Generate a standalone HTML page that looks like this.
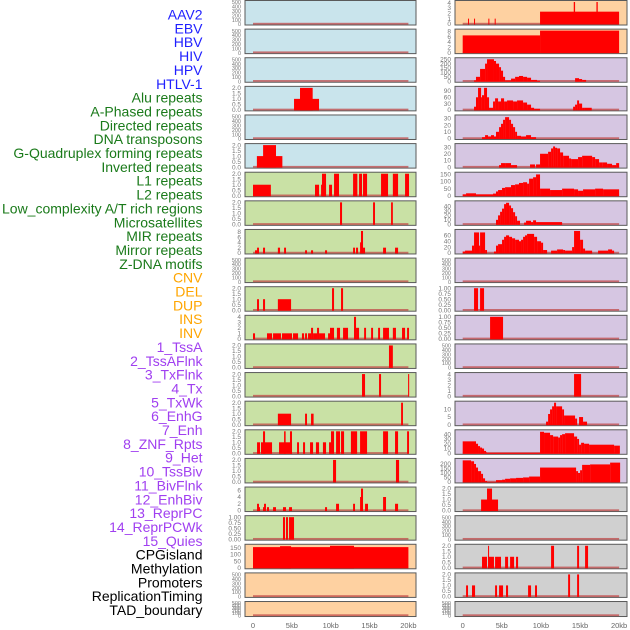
<!DOCTYPE html>
<html><head><meta charset="utf-8"><style>
html,body{margin:0;padding:0;background:#fff;}
svg{display:block;font-family:"Liberation Sans",sans-serif;}
</style></head><body>
<svg id="chart" width="630" height="630" viewBox="0 0 630 630" xmlns="http://www.w3.org/2000/svg"></svg>
<script>
const labelNames = ["AAV2","EBV","HBV","HIV","HPV","HTLV-1","Alu repeats","A-Phased repeats","Directed repeats","DNA transposons","G-Quadruplex forming repeats","Inverted repeats","L1 repeats","L2 repeats","Low_complexity A/T rich regions","Microsatellites","MIR repeats","Mirror repeats","Z-DNA motifs","CNV","DEL","DUP","INS","INV","1_TssA","2_TssAFlnk","3_TxFlnk","4_Tx","5_TxWk","6_EnhG","7_Enh","8_ZNF_Rpts","9_Het","10_TssBiv","11_BivFlnk","12_EnhBiv","13_ReprPC","14_ReprPCWk","15_Quies","CPGisland","Methylation","Promoters","ReplicationTiming","TAD_boundary"];
const labelGroups = ["v","v","v","v","v","v","r","r","r","r","r","r","r","r","r","r","r","r","r","s","s","s","s","s","c","c","c","c","c","c","c","c","c","c","c","c","c","c","c","o","o","o","o","o"];
const xTickValues = [0,5,10,15,20];
const xTickLabels = ["0","5kb","10kb","15kb","20kb"];
const leftBg = ["b","b","b","b","b","b","g","g","g","g","g","g","g","g","g","g","g","g","g","p","p","p"];
const rightBg = ["p","p","l","l","l","l","l","l","l","l","l","l","l","l","l","l","l","y","y","y","y","y"];
const leftYmax = [500,500,500,2,500,2,2,2,8.3,500,2,4,2,2,2,2,2,6.5,1,165,500,500];
const rightYmax = [4.1,8.3,250,105,33,33,155,49,75,500,1,1,500,4,14.4,46,245,2,500,2,2,500];
const leftTicks = [
"E","E","E","T2","E","T2","T2","T2",[0,2,4,6,8],"E","T2",[0,1,2,3,4],"T2","T2","T2","T2","T2",[0,2,4,6],"T1",[0,50,100,150],"E","E"];
const rightTicks = [
[0,1,2,3,4],[0,2,4,6,8],[0,50,100,150,200,250],[0,30,60,90],[0,10,20,30],[0,10,20,30],[0,50,100,150],[0,10,20,30,40],[0,20,40,60],"E","T1","T1","E",[0,1,2,3,4],[0,5,10],[0,10,20,30,40],[0,50,100,150,200],"T2","E","T2","T2","E"];
const leftBars = [
[],[],[],
[[5.28,8.5,1],[6.05,7.68,2]],
[],
[[0.5,3.78,1],[1.3,2.96,2]],
[[0,2.3,1],[7.98,8.5,1],[8.76,9.4,1],[8.88,9.4,2],[9.79,10.17,1],[10.43,11.07,2],[12.88,13.43,2],[13.65,14.03,2],[14.16,14.68,2],[16.48,17.38,2],[18.0,18.67,2],[19.57,20.08,2]],
[[11.2,11.46,2],[15.45,15.7,2],[17.77,18.0,2]],
[[0.26,0.52,1],[0.52,0.77,2],[1.29,1.55,2],[3.2,3.48,2],[4.0,4.25,2],[6.7,6.95,1],[7.47,7.73,1],[9.27,9.53,1],[12.88,13.13,2],[13.26,13.52,2],[13.78,13.9,4],[13.9,14.16,8.3],[14.16,14.42,2],[16.74,17.12,2],[18.28,18.67,2]],
[],
[[0.52,0.77,1],[1.29,1.55,1],[3.2,4.9,1],[10.17,10.43,2],[11.33,11.59,2]],
[[0,0.26,1],[1.8,2.45,1],[2.58,3.6,1],[3.73,5.02,1],[5.15,5.8,1],[6.3,6.57,1],[6.7,6.95,1],[7.08,7.47,1],[7.47,7.73,2],[7.73,8.24,1],[8.24,8.5,2],[8.5,9.27,1],[9.66,9.91,1],[9.91,10.43,2],[10.8,11.2,2],[11.59,12.23,2],[13.0,13.26,4],[13.26,13.65,2],[14.3,14.55,2],[15.2,15.45,2],[16.1,16.35,2],[16.74,17.5,2],[18.0,18.4,2],[19.18,19.57,2],[19.83,20.08,2]],
[[17.5,18.0,2]],
[[14.03,14.42,2],[16.22,16.48,2],[19.96,20.1,2]],
[[3.2,4.9,1],[6.7,6.95,1],[7.47,7.8,1],[19.06,19.3,2]],
[[0.52,0.9,1],[1.03,2.45,1],[1.29,1.55,2],[3.35,5.02,1],[4.0,4.2,2],[4.76,5.02,2],[5.67,5.92,1],[6.44,6.7,1],[7.34,7.73,1],[8.1,8.5,1],[9.0,9.4,1],[9.79,10.04,1],[10.04,10.43,2],[10.69,11.2,2],[11.33,11.72,2],[12.6,13.4,2],[13.78,14.68,2],[16.74,17.38,2],[18.28,18.67,2],[19.83,20.08,2]],
[[10.3,10.69,2],[18.4,18.8,2]],
[[0.52,0.77,2],[0.77,0.9,1],[1.29,1.42,1],[1.42,1.67,2],[1.8,2.06,1],[2.58,2.96,1],[3.86,4.25,1],[4.64,5.02,1],[9.27,9.53,1],[10.69,11.07,2],[12.88,13.13,2],[13.78,13.9,4],[13.9,14.16,6.5],[14.42,14.8,2],[16.74,17.12,4],[18.28,18.67,2]],
[[3.86,4.12,1],[4.25,4.5,1],[4.64,5.28,1]],
[[0,20,155],[3.48,4.9,162],[9.91,13.0,165]],
[],[]];
const rightBars = [
[[0.68,0.81,1],[1.45,1.58,1],[3.28,3.41,1],[4.09,4.22,1],[9.89,20,2.3],[14.2,14.37,4.1],[17.1,17.27,4.1]],
[[0,9.89,6.5],[9.89,20,8.3]],
[[1.45,1.7,10],[1.7,2.22,50],[2.22,2.86,140],[2.86,3.11,200],[3.11,4.0,250],[4.0,4.26,230],[4.26,4.65,200],[4.65,4.9,160],[4.9,5.16,120],[5.16,5.42,50],[5.42,6.18,10],[6.18,6.7,30],[6.7,7.2,50],[7.2,7.72,60],[7.72,8.23,50],[8.23,8.74,40],[8.74,9.51,15],[9.51,9.89,5],[14.37,14.88,35],[14.88,15.27,25],[15.27,15.78,15]],
[[1.45,1.7,15],[1.7,1.96,60],[1.96,2.35,105],[2.35,2.47,60],[2.47,2.73,70],[2.73,3.11,105],[3.11,3.37,60],[3.37,3.88,10],[3.88,4.14,40],[4.14,4.52,55],[4.52,4.9,40],[4.9,5.29,55],[5.29,5.67,40],[5.67,6.44,45],[6.44,6.95,40],[6.95,7.72,45],[7.72,8.23,35],[8.23,8.74,25],[8.74,9.13,10],[9.13,9.89,5],[14.12,14.37,15],[14.37,14.63,25],[14.63,14.88,45],[14.88,15.27,30],[15.27,15.52,10],[15.52,16.5,10]],
[[2.47,2.86,2],[2.86,3.24,5],[3.24,3.62,3],[3.62,4.0,5],[4.0,4.26,3],[4.26,4.65,10],[4.65,4.9,17],[4.9,5.16,22],[5.16,5.42,28],[5.42,5.93,32],[5.93,6.18,28],[6.18,6.44,22],[6.44,6.7,17],[6.7,6.95,10],[6.95,7.46,4],[7.46,8.1,3],[8.1,8.74,5],[8.74,9.38,2]],
[[4.65,4.9,3],[4.9,5.42,6],[5.42,6.18,6],[6.18,6.95,3],[8.61,9.25,4],[9.38,9.89,4],[9.89,10.92,20],[10.92,11.3,23],[11.3,11.56,28],[11.56,11.81,31],[11.81,12.07,29],[12.07,12.45,28],[12.45,12.84,22],[12.84,13.6,17],[13.6,13.86,13],[13.86,14.75,12],[14.75,15.27,15],[15.27,16.55,17],[16.55,16.93,15],[16.93,17.44,12],[17.44,17.83,7],[17.83,18.46,7],[18.46,19.1,5],[19.1,19.62,3],[19.62,20,6]],
[[0,0.43,10],[0.43,1.7,17],[1.7,3.88,10],[3.88,4.26,15],[4.26,4.52,30],[4.52,5.03,40],[5.03,5.42,55],[5.42,6.18,60],[6.18,6.7,75],[6.7,7.2,80],[7.2,7.72,90],[7.72,8.23,95],[8.23,8.49,85],[8.49,9.0,120],[9.0,9.38,130],[9.38,9.89,150],[9.89,11.17,50],[11.17,12.71,40],[12.71,14.24,50],[14.24,14.75,45],[14.75,15.39,35],[15.39,16.93,45],[16.93,17.95,50],[17.95,20,45]],
[[4.26,4.52,10],[4.52,4.78,20],[4.78,5.03,28],[5.03,5.29,35],[5.29,5.54,45],[5.54,5.93,48],[5.93,6.18,42],[6.18,6.44,36],[6.44,6.7,27],[6.7,6.95,18],[6.95,7.33,8],[7.85,8.1,4],[8.1,8.74,8],[8.74,9.0,5],[9.0,9.38,9],[9.38,12.71,5]],
[[0,0.3,5],[0.3,1.19,8],[1.19,1.45,25],[1.45,2.09,70],[2.09,2.22,25],[2.22,2.86,70],[2.86,3.11,10],[4.0,4.26,5],[4.26,4.52,25],[4.52,5.03,30],[5.03,5.29,45],[5.29,5.54,55],[5.54,5.93,60],[5.93,6.31,55],[6.31,6.7,50],[6.7,7.2,45],[7.2,7.46,40],[7.46,7.72,45],[7.72,7.97,55],[7.97,8.23,60],[8.23,9.13,65],[9.13,9.51,55],[9.51,10.02,40],[10.02,10.28,35],[10.28,10.79,10],[11.3,12.07,8],[12.07,12.84,12],[12.84,13.09,10],[13.09,13.99,8],[13.99,14.24,20],[14.24,15.01,75],[15.01,15.39,45],[15.39,15.65,15],[15.65,16.55,8],[17.31,18.59,8],[18.59,19.1,12],[19.1,19.36,8]],
[],
[[1.45,1.96,1],[2.22,2.73,1]],
[[3.5,5.16,1]],
[],
[[14.24,15.14,4]],
[[10.66,10.92,2],[10.92,11.17,7],[11.17,11.43,10],[11.43,11.68,12],[11.68,11.94,14.4],[11.94,12.71,12],[12.71,12.96,10],[12.96,14.37,6],[14.37,14.63,4],[14.88,15.39,5],[15.39,15.9,2]],
[[0,1.7,25],[1.7,1.96,20],[1.96,2.22,15],[2.22,2.47,12],[2.47,2.73,10],[2.73,2.99,5],[2.99,3.11,2],[3.11,9.89,1],[9.89,10.4,45],[10.4,11.17,43],[11.17,11.56,38],[11.56,12.2,35],[12.2,12.45,33],[12.45,12.71,38],[12.71,13.09,40],[13.09,14.24,42],[14.24,14.63,35],[14.63,14.88,30],[14.88,15.14,18],[15.14,15.52,22],[15.52,16.16,20],[16.16,19.36,18],[19.36,20.1,16]],
[[0,1.07,240],[1.07,1.45,230],[1.45,1.7,200],[1.7,1.96,160],[1.96,2.35,120],[2.35,2.6,90],[2.6,2.86,40],[2.86,3.11,10],[3.11,4.26,1],[4.26,5.03,20],[5.03,5.42,25],[5.42,6.06,35],[6.06,6.82,40],[6.82,7.72,45],[7.72,8.49,50],[8.49,9.89,60],[9.89,14.5,160],[14.5,14.75,120],[14.75,15.01,100],[15.01,15.27,130],[15.27,16.29,190],[16.29,18.85,195],[18.85,20.13,215]],
[[2.35,4.52,1],[3.11,3.75,2]],
[],
[[2.47,3.11,1],[3.24,4.0,1],[3.24,3.37,2],[4.14,4.9,1],[5.42,5.8,1],[6.06,6.57,1],[6.82,7.08,1],[11.3,11.68,2],[14.63,14.88,2],[15.65,16.03,2]],
[[0.43,0.68,1],[1.19,1.58,1],[4.14,4.39,1],[4.65,5.16,1],[5.54,5.8,1],[8.36,8.74,1],[9.25,9.5,1],[13.48,13.73,2],[14.63,14.88,2]],
[]];

const NS = "http://www.w3.org/2000/svg";
const svg = document.getElementById('chart');
const bgColors = {b:"#c9e4ec", g:"#c9e1a5", p:"#fed1a1", l:"#d6c6e2", y:"#d0d0d0"};
const labelColors = {v:"#1f1fff", r:"#1a7a1a", s:"#ffa500", c:"#a03ff0", o:"#000000"};
function el(tag, attrs){const e=document.createElementNS(NS,tag);for(const k in attrs)e.setAttribute(k,attrs[k]);return e;}
function xLeft(kb){return 253+kb*7.77;}
function xRight(kb){return 462.7+kb*7.82;}
function rowTop(i){return 0.5+i*28.62;}
function rowH(i){return i===21?15:24.5;}

// labels
labelNames.forEach((t,i)=>{
  const tx=el('text',{x:202.5,y:19.5+i*13.85,'text-anchor':'end','font-size':'14',fill:labelColors[labelGroups[i]]});
  tx.textContent=t;
  
  
  svg.appendChild(tx);
});

function tickSet(spec){
  if(spec==="E")return {vals:[0,100,200,300,400,500],fmt:v=>String(v),max:500};
  if(spec==="T2")return {vals:[0,0.5,1,1.5,2],fmt:v=>v.toFixed(1),max:2};
  if(spec==="T1")return {vals:[0,0.25,0.5,0.75,1],fmt:v=>v.toFixed(2),max:1};
  return {vals:spec,fmt:v=>String(v)};
}

function drawPanel(side,i,bg,ymax,ticks,bars){
  const x0 = side==='left'?245:455, w = side==='left'?171:172;
  const xs = side==='left'?xLeft:xRight;
  const top=rowTop(i), h=rowH(i), bottom=top+h;
  const g=el('g',{});
  
  
  const r=el('rect',{x:x0,y:top,width:w,height:h,fill:bgColors[bg],stroke:"#5a5a5a","stroke-width":1});
  
  
  g.appendChild(r);
  const ts=tickSet(ticks);
  const ym=ymax;
  const y=v=>bottom-1-(v/ym)*(h-2.5);
  // baseline
  const bl=el('rect',{x:xs(0),y:bottom-2.2,width:xs(20)-xs(0),height:1.8,fill:"#c04848",opacity:0.75});
  
  
  g.appendChild(bl);
  bars.forEach(b=>{
    const yy=y(b[2]);
    const br=el('rect',{x:xs(b[0]),y:yy,width:Math.max(0.8,xs(b[1])-xs(b[0])),height:Math.max(0,bottom-1-yy+0.5),fill:"#ff0000"});
    
    
    g.appendChild(br);
  });
  const fs = (ticks==="E")?5.5:6.5;
  ts.vals.forEach(v=>{
    const t=el('text',{x:x0-4,y:y(v)+2.2,'text-anchor':'end','font-size':fs,fill:"#777"});
    t.textContent=ts.fmt(v);
    
    
    g.appendChild(t);
  });
  svg.appendChild(g);
}
for(let i=0;i<22;i++){
  drawPanel('left',i,leftBg[i],leftYmax[i],leftTicks[i],leftBars[i]);
  drawPanel('right',i,rightBg[i],rightYmax[i],rightTicks[i],rightBars[i]);
}
// x axes
[['left',xLeft],['right',xRight]].forEach(([side,xs])=>{
  xTickValues.forEach((v,k)=>{
    const t=el('text',{x:xs(v),y:628,'text-anchor':'middle','font-size':7.5,fill:"#666"});
    t.textContent=xTickLabels[k];
    
    
    svg.appendChild(t);
  });
});
</script>
</body></html>
